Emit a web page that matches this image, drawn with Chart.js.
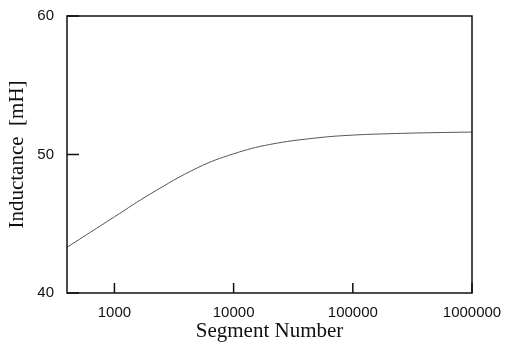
<!DOCTYPE html>
<html>
<head>
<meta charset="utf-8">
<script src="https://cdn.jsdelivr.net/npm/chart.js@4"></script>
<style>
  html, body { margin: 0; padding: 0; background: #fff; }
  #wrap { width: 505px; height: 344px; }
</style>
</head>
<body>
<div id="wrap"><canvas id="chart"></canvas></div>
<script>
// data
const segments = [400, 1000, 2000, 5000, 10000, 20000, 50000, 100000, 200000, 500000, 1000000];
const inductance = [43.3, 45.5, 47.15, 49.05, 50.05, 50.72, 51.2, 51.4, 51.5, 51.58, 51.62];
const xTicks = [1000, 10000, 100000, 1000000];
const yTicks = [40, 50, 60];

// frame + inward tick marks
const framePlugin = {
    id: 'frame',
    afterDraw(chart) {
        const { ctx, chartArea: a, scales } = chart;
        ctx.save();
        ctx.strokeStyle = '#111';
        ctx.lineWidth = 1.5;
        ctx.strokeRect(a.left, a.top, a.right - a.left, a.bottom - a.top);
        ctx.beginPath();
        yTicks.forEach(v => {
            const y = scales.y.getPixelForValue(v);
            ctx.moveTo(a.left, y);
            ctx.lineTo(a.left + 12, y);
        });
        xTicks.forEach(v => {
            const x = scales.x.getPixelForValue(v);
            ctx.moveTo(x, a.bottom);
            ctx.lineTo(x, a.bottom - 10);
        });
        ctx.stroke();
        ctx.restore();
    }
};

const ctx = document.getElementById('chart').getContext('2d');
new Chart(ctx, {
    type: 'line',
    data: {
        datasets: [{
            data: segments.map((s, i) => ({ x: s, y: inductance[i] })),
            borderColor: '#555',
            borderWidth: 1,
            pointRadius: 0,
            tension: 0.4,
            fill: false
        }]
    },
    options: {
        responsive: true,
        maintainAspectRatio: false,
        animation: false,
        layout: { padding: { top: 16, right: 33, left: 0, bottom: 0 } },
        plugins: { legend: { display: false }, tooltip: { enabled: false } },
        scales: {
            x: {
                type: 'logarithmic',
                min: 400,
                max: 1000000,
                grid: { display: false, drawTicks: false },
                border: { display: false },
                afterBuildTicks: scale => { scale.ticks = xTicks.map(v => ({ value: v })); },
                afterFit: scale => {
                    scale.height = 51;
                    scale.paddingLeft = 0;
                    scale.paddingRight = 0;
                },
                ticks: {
                    color: '#111',
                    font: { family: 'Liberation Sans, Arial', size: 15 },
                    padding: 11,
                    maxRotation: 0,
                    autoSkip: false,
                    callback: v => String(v)
                },
                title: {
                    display: true,
                    text: 'Segment Number',
                    color: '#111',
                    font: { family: 'Liberation Serif, Times New Roman', size: 21 },
                    padding: { top: 0, bottom: 0 }
                }
            },
            y: {
                min: 40,
                max: 60,
                grid: { display: false, drawTicks: false },
                border: { display: false },
                afterBuildTicks: scale => { scale.ticks = yTicks.map(v => ({ value: v })); },
                afterFit: scale => {
                    scale.width = 67;
                    scale.paddingTop = 0;
                    scale.paddingBottom = 0;
                },
                ticks: {
                    color: '#111',
                    font: { family: 'Liberation Sans, Arial', size: 15 },
                    padding: 13
                },
                title: {
                    display: true,
                    text: 'Inductance  [mH]',
                    color: '#111',
                    font: { family: 'Liberation Serif, Times New Roman', size: 21 },
                    padding: { top: 5, bottom: 0 }
                }
            }
        }
    },
    plugins: [framePlugin]
});
</script>
</body>
</html>
